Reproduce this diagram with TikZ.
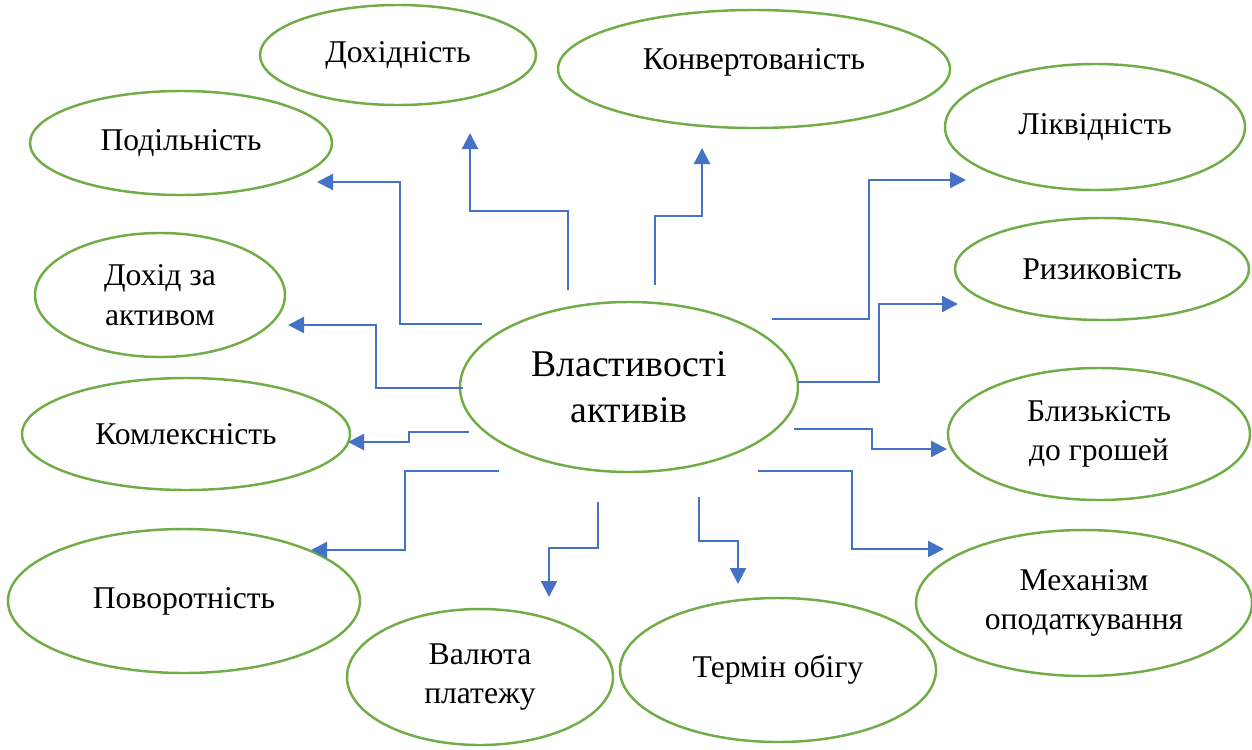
\documentclass[tikz,border=0pt]{standalone}
\usepackage{fontspec}
\setmainfont{Liberation Serif}
\usetikzlibrary{shapes.geometric,arrows.meta}
\usepackage{xcolor}
\definecolor{propgreen}{RGB}{112,173,71}
\definecolor{linkblue}{RGB}{68,114,196}

\begin{document}
\begin{tikzpicture}[
    prop/.style={ellipse, draw=propgreen, line width=1.4pt, inner sep=0pt,
                 align=center, font=\fontsize{18}{22.5}\selectfont},
    mainprop/.style={prop, font=\fontsize{21.5}{26}\selectfont},
    link/.style={linkblue, line width=1.3pt,
                 -{Triangle[length=0.32cm, width=0.32cm]}}
]
\useasboundingbox (0,0) rectangle (25.04,-14.98);

% central ellipse
\node[mainprop, minimum width=6.76cm, minimum height=3.40cm] (main) at (12.58,-7.74) {Властивості\\активів};

% properties
\node[prop, minimum width=5.52cm, minimum height=2.00cm] (dokh)  at (7.96,-1.10)  {Дохідність};
\node[prop, minimum width=7.84cm, minimum height=2.36cm] (konv)  at (15.08,-1.38) {\raisebox{0cm}[0pt][0pt]{Конвертованість}};
\node[prop, minimum width=6.04cm, minimum height=2.08cm] (podil) at (3.62,-2.86)  {Подільність};
\node[prop, minimum width=6.00cm, minimum height=2.52cm] (likv)  at (21.90,-2.54) {Ліквідність};
\node[prop, minimum width=5.00cm, minimum height=2.48cm] (dokhid) at (3.20,-5.90) {Дохід за\\активом};
\node[prop, minimum width=5.88cm, minimum height=2.04cm] (ryz)   at (22.04,-5.38) {Ризиковість};
\node[prop, minimum width=6.56cm, minimum height=2.24cm] (kompl) at (3.72,-8.68)  {Комлексність};
\node[prop, minimum width=6.04cm, minimum height=2.64cm] (blyz)  at (21.98,-8.68) {Близькість\\до грошей};
\node[prop, minimum width=7.04cm, minimum height=2.88cm] (povor) at (3.68,-12.02) {Поворотність};
\node[prop, minimum width=6.72cm, minimum height=2.92cm] (mekh)  at (21.68,-12.06) {Механізм\\оподаткування};
\node[prop, minimum width=5.32cm, minimum height=2.72cm] (val)   at (9.60,-13.54) {Валюта\\платежу};
\node[prop, minimum width=6.32cm, minimum height=2.88cm] (term)  at (15.56,-13.40) {Термін обігу};

% connector ends
\coordinate (sdokh)  at (11.36,-5.80);  \coordinate (edokh)  at (9.40,-2.66);
\coordinate (skonv)  at (13.10,-5.70);  \coordinate (ekonv)  at (14.04,-2.96);
\coordinate (spodil) at (9.64,-6.48);   \coordinate (epodil) at (6.34,-3.64);
\coordinate (sdokhid) at (9.26,-7.76);  \coordinate (edokhid) at (5.76,-6.50);
\coordinate (skompl) at (9.38,-8.64);   \coordinate (ekompl) at (6.96,-8.84);
\coordinate (spovor) at (9.98,-9.42);   \coordinate (epovor) at (6.22,-11.00);
\coordinate (sval)   at (11.96,-10.04); \coordinate (eval)   at (10.98,-11.94);
\coordinate (sterm)  at (13.98,-9.94);  \coordinate (eterm)  at (14.76,-11.68);
\coordinate (smekh)  at (15.16,-9.42);  \coordinate (emekh)  at (18.88,-10.98);
\coordinate (sblyz)  at (15.88,-8.58);  \coordinate (eblyz)  at (18.94,-8.98);
\coordinate (sryz)   at (15.96,-7.64);  \coordinate (eryz)   at (19.16,-6.08);
\coordinate (slikv)  at (15.44,-6.38);  \coordinate (elikv)  at (19.32,-3.60);

% connectors
\draw[link] (sdokh) -- ++(0,1.58) -| (edokh);
\draw[link] (skonv) -- ++(0,1.38) -| (ekonv);
\draw[link] (spodil) -- ++(-1.64,0) |- (epodil);
\draw[link] (sdokhid) -- ++(-1.74,0) |- (edokhid);
\draw[link] (skompl) -- ++(-1.20,0) |- (ekompl);
\draw[link] (spovor) -- ++(-1.88,0) |- (epovor);
\draw[link] (sval) -- ++(0,-0.92) -| (eval);
\draw[link] (sterm) -- ++(0,-0.88) -| (eterm);
\draw[link] (smekh) -- ++(1.88,0) |- (emekh);
\draw[link] (sblyz) -- ++(1.56,0) |- (eblyz);
\draw[link] (sryz) -- ++(1.62,0) |- (eryz);
\draw[link] (slikv) -- ++(1.94,0) |- (elikv);

\end{tikzpicture}
\end{document}
